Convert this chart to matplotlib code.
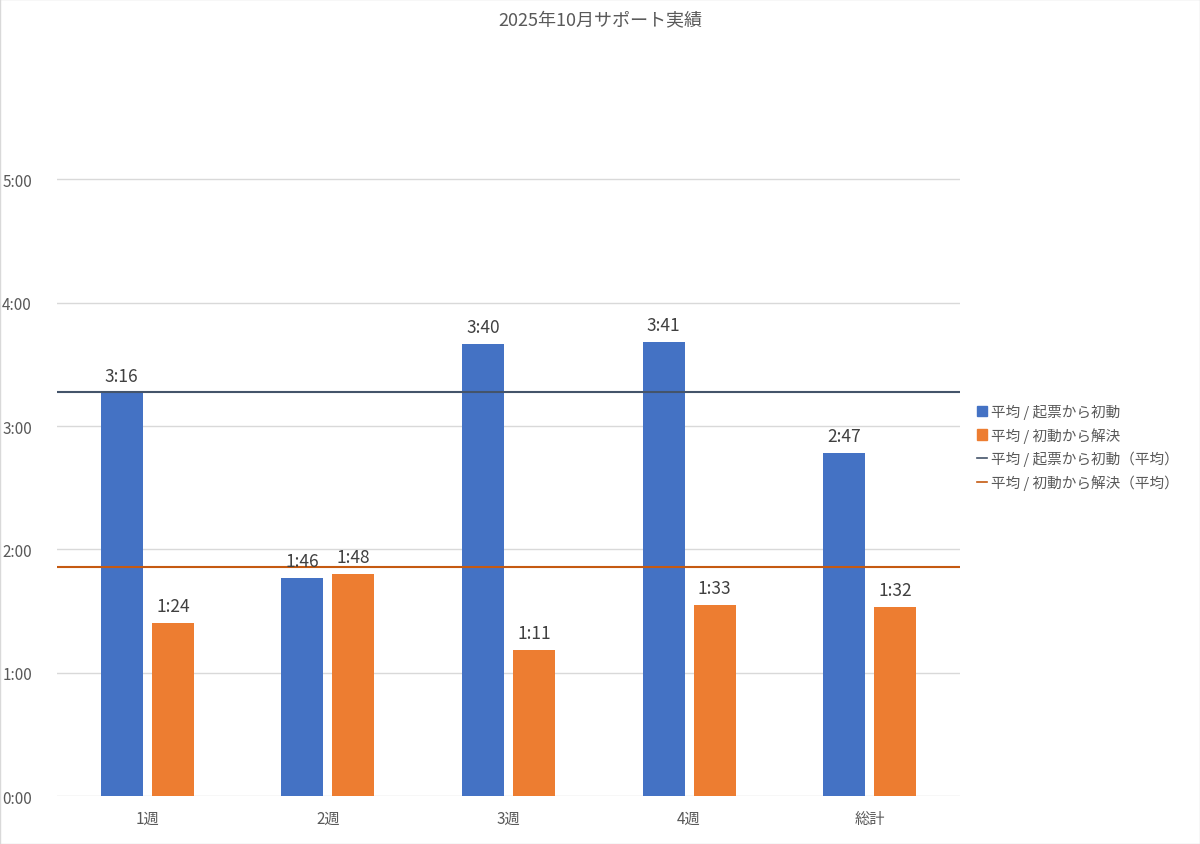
import matplotlib.pyplot as plt
import numpy as np
from matplotlib.lines import Line2D
from matplotlib.patches import Patch

plt.rcParams['font.family'] = ['Noto Sans CJK JP', 'DejaVu Sans']

categories = ['1週', '2週', '3週', '4週', '総計']
first_response = [196, 106, 220, 221, 167]   # minutes
resolution = [84, 108, 71, 93, 92]           # minutes
avg_first = 196.5
avg_resolution = 111.5

blue = '#4472C4'
orange = '#ED7D31'
gray = '#595959'


def fmt(m):
    return '%d:%02d' % (m // 60, m % 60)


fig = plt.figure(figsize=(12, 8.45), dpi=100)
fig.patches.append(plt.Rectangle((0, 0), 1, 1, transform=fig.transFigure,
                                 fill=False, edgecolor='#D9D9D9', lw=1))
ax = fig.add_axes([0.0475, 0.0568, 0.7525, 0.8757])

x = np.arange(len(categories))
w = 0.233
off = w / 2 + 0.025
b1 = ax.bar(x - off, first_response, w, color=blue, zorder=2)
b2 = ax.bar(x + off, resolution, w, color=orange, zorder=2)
for bars, vals in ((b1, first_response), (b2, resolution)):
    for b, v in zip(bars, vals):
        ax.text(b.get_x() + b.get_width() / 2, v + 4, fmt(v), ha='center',
                va='bottom', fontsize=12.5, color='#404040', zorder=4)

ax.axhline(avg_first, color='#44546A', lw=1.5, zorder=3)
ax.axhline(avg_resolution, color='#C55A11', lw=1.5, zorder=3)

ax.set_xlim(-0.5, len(categories) - 0.5)
ax.set_ylim(0, 360)
ax.set_yticks(range(0, 301, 60))
ax.set_yticklabels([fmt(t) for t in range(0, 301, 60)])
ax.set_xticks(x)
ax.set_xticklabels(categories)
ax.tick_params(colors=gray, labelsize=11, length=0, pad=10)
ax.grid(axis='y', color='#D9D9D9', lw=1, zorder=0)
for s in ax.spines.values():
    s.set_visible(False)
ax.tick_params(axis='y', pad=18)

fig.suptitle('2025年10月サポート実績', y=0.985, fontsize=13, color=gray)

handles = [Patch(color=blue), Patch(color=orange),
           Line2D([], [], color='#44546A', lw=1.2),
           Line2D([], [], color='#C55A11', lw=1.2)]
labels = ['平均 / 起票から初動', '平均 / 初動から解決',
          '平均 / 起票から初動（平均）', '平均 / 初動から解決（平均）']
fig.legend(handles, labels, loc='center left', bbox_to_anchor=(0.803, 0.47),
           frameon=False, fontsize=10.5, labelcolor=gray, handlelength=0.7,
           handleheight=0.7, handletextpad=0.3, labelspacing=0.55)

fig.savefig('out.png', dpi=100)
